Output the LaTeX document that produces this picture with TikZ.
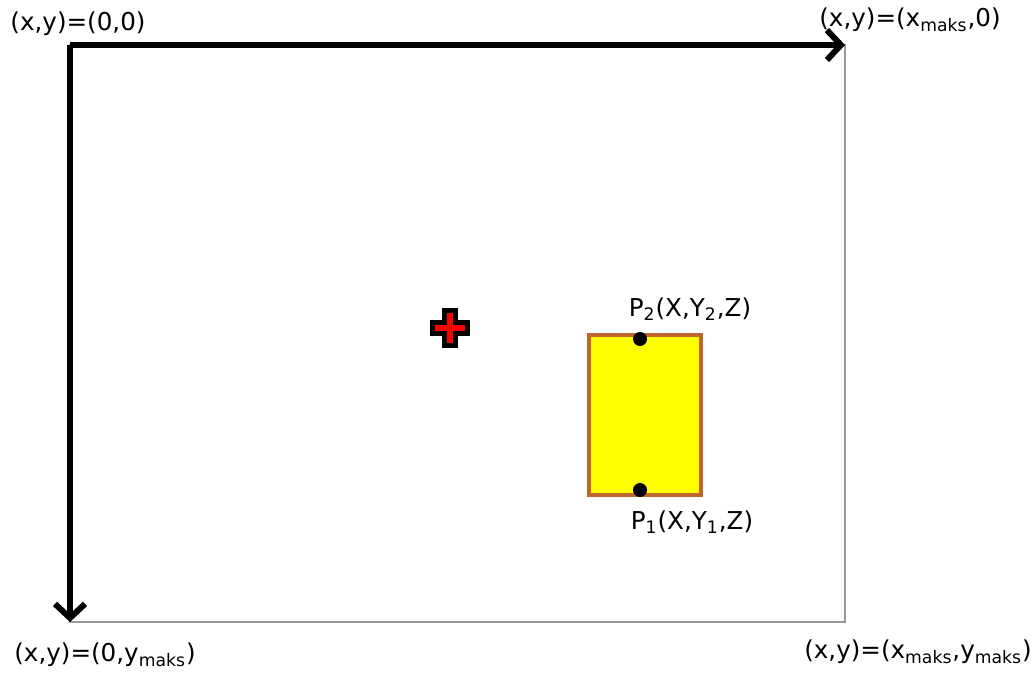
\documentclass[tikz,border=0pt]{standalone}
\usepackage{fontspec}
\setmainfont{DejaVu Sans}
\usetikzlibrary{positioning, arrows.meta, calc}
\definecolor{boxbrown}{RGB}{192,102,44}
\definecolor{boxyellow}{RGB}{255,255,0}
\definecolor{crossred}{RGB}{255,0,0}

\begin{document}
\begin{tikzpicture}[
  x=0.5pt, y=-0.5pt,
  every node/.style={font=\fontsize{12.3}{14}\selectfont, inner sep=0pt},
  axis/.style={line width=3pt, -{Straight Barb[length=7pt, width=15pt, line width=3pt]}},
  pt/.style={circle, fill=black, minimum size=7pt}
]
\useasboundingbox (0,0) rectangle (1031,675);

% screen frame
\draw[gray!80, line width=0.8pt] (70,45) rectangle (845,622);

% axes
\coordinate (orig) at (70,45);
\coordinate (xend) at (845,45);
\coordinate (yend) at (70,622);
\draw[axis] (orig) -- (xend);
\draw[axis] (orig) -- (yend);

% corner labels
\node (lorig) at (78,24) {(x,y)=(0,0)};
\node (lxmax) at (910,20) {(x,y)=(x\textsubscript{maks},0)};
\node (lymax) at (105,655) {(x,y)=(0,y\textsubscript{maks})};
\node (lxymax) at (918,652) {(x,y)=(x\textsubscript{maks},y\textsubscript{maks})};

% red cross
\draw[black, fill=crossred, line width=2.5pt, miter limit=10]
  (444,310) -- (455,310) -- (455,322) -- (467,322) -- (467,333) -- (455,333)
  -- (455,345) -- (444,345) -- (444,333) -- (432,333) -- (432,322) -- (444,322) -- cycle;

% object
\draw[boxbrown, fill=boxyellow, line width=2pt] (589,335) rectangle (701,495);
\node[pt] (p2) at (640,339) {};
\node[pt] (p1) at (640,490) {};
\node (lp2) at (690,309) {P\textsubscript{2}(X,Y\textsubscript{2},Z)};
\node (lp1) at (692,522) {P\textsubscript{1}(X,Y\textsubscript{1},Z)};
\end{tikzpicture}
\end{document}
